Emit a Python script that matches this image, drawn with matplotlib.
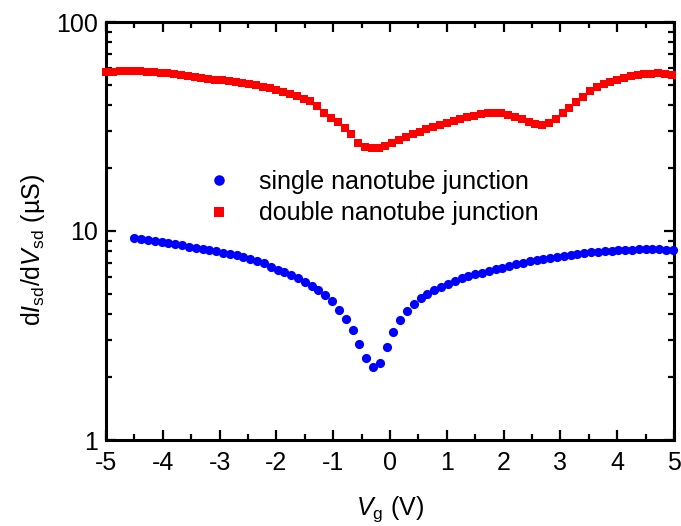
import numpy as np
import matplotlib
matplotlib.use("Agg")
import matplotlib.pyplot as plt
from matplotlib.ticker import LogLocator, NullFormatter, FixedLocator, FixedFormatter, MultipleLocator

plt.rcParams['font.family'] = ['Liberation Sans', 'DejaVu Sans']
plt.rcParams['mathtext.fontset'] = 'custom'
plt.rcParams['mathtext.rm'] = 'Liberation Sans'
plt.rcParams['mathtext.it'] = 'Liberation Sans:italic'
plt.rcParams['mathtext.sf'] = 'Liberation Sans'

# single nanotube junction (blue circles)
vg_single = [-4.50, -4.38, -4.26, -4.14, -4.02, -3.90, -3.78, -3.66, -3.54, -3.42,
             -3.30, -3.18, -3.06, -2.94, -2.82, -2.70, -2.58, -2.46, -2.34, -2.22,
             -2.10, -1.98, -1.86, -1.74, -1.62, -1.50, -1.38, -1.26, -1.14, -1.02,
             -0.90, -0.78, -0.66, -0.54, -0.42, -0.30, -0.18, -0.06, 0.06, 0.18,
             0.30, 0.42, 0.54, 0.66, 0.78, 0.90, 1.02, 1.14, 1.26, 1.38,
             1.50, 1.62, 1.74, 1.86, 1.98, 2.10, 2.22, 2.34, 2.46, 2.58,
             2.70, 2.82, 2.94, 3.06, 3.18, 3.30, 3.42, 3.54, 3.66, 3.78,
             3.90, 4.02, 4.14, 4.26, 4.38, 4.50, 4.62, 4.74, 4.86, 4.98]
g_single = [9.30, 9.20, 9.10, 9.00, 8.90, 8.78, 8.66, 8.54, 8.43, 8.32,
            8.21, 8.10, 7.99, 7.88, 7.77, 7.65, 7.52, 7.38, 7.22, 7.06,
            6.72, 6.53, 6.34, 6.14, 5.93, 5.68, 5.45, 5.23, 4.95, 4.60,
            4.20, 3.78, 3.35, 2.88, 2.48, 2.23, 2.33, 2.80, 3.30, 3.75,
            4.15, 4.48, 4.78, 5.00, 5.20, 5.40, 5.60, 5.78, 5.95, 6.08,
            6.20, 6.32, 6.44, 6.56, 6.68, 6.80, 6.92, 7.04, 7.15, 7.26,
            7.36, 7.46, 7.55, 7.63, 7.71, 7.78, 7.85, 7.91, 7.96, 8.01,
            8.05, 8.09, 8.12, 8.15, 8.17, 8.18, 8.18, 8.17, 8.15, 8.12]

# double nanotube junction (red squares)
vg_double = [-5.00, -4.88, -4.76, -4.64, -4.52, -4.40, -4.28, -4.16, -4.04, -3.92,
             -3.80, -3.68, -3.56, -3.44, -3.32, -3.20, -3.08, -2.96, -2.84, -2.72,
             -2.60, -2.48, -2.36, -2.24, -2.12, -2.00, -1.88, -1.76, -1.64, -1.52,
             -1.40, -1.28, -1.16, -1.04, -0.92, -0.80, -0.68, -0.56, -0.44, -0.32,
             -0.20, -0.08, 0.04, 0.16, 0.28, 0.40, 0.52, 0.64, 0.76, 0.88,
             1.00, 1.12, 1.24, 1.36, 1.48, 1.60, 1.72, 1.84, 1.96, 2.08,
             2.20, 2.32, 2.44, 2.56, 2.68, 2.80, 2.92, 3.04, 3.16, 3.28,
             3.40, 3.52, 3.64, 3.76, 3.88, 4.00, 4.12, 4.24, 4.36, 4.48,
             4.60, 4.72, 4.84, 4.96]
g_double = [57.5, 57.8, 58.0, 58.2, 58.3, 58.0, 57.7, 57.4, 57.1, 56.8,
            56.3, 55.7, 55.1, 54.5, 54.0, 53.5, 53.0, 52.5, 52.1, 51.6,
            51.0, 50.4, 49.8, 49.1, 48.3, 47.4, 46.4, 45.3, 44.2, 43.0,
            41.8, 39.5, 36.6, 34.8, 33.2, 31.2, 29.0, 26.5, 25.2, 25.0,
            24.9, 25.5, 26.4, 27.3, 28.2, 29.0, 29.8, 30.6, 31.3, 32.0,
            32.8, 33.6, 34.4, 35.0, 35.6, 36.1, 36.5, 36.7, 36.5, 36.0,
            35.3, 34.4, 33.4, 32.6, 32.2, 32.8, 34.5, 36.5, 38.8, 41.2,
            44.0, 46.8, 49.0, 50.7, 51.9, 53.0, 54.0, 54.9, 55.7, 56.3,
            56.7, 56.8, 56.5, 56.0]

x_ticks = [-5, -4, -3, -2, -1, 0, 1, 2, 3, 4, 5]
x_ticklabels = ['-5', '-4', '-3', '-2', '-1', '0', '1', '2', '3', '4', '5']
y_ticks = [1, 10, 100]
y_ticklabels = ['1', '10', '100']

fig = plt.figure(figsize=(6.81, 5.26), dpi=100)
ax = fig.add_axes([106/681, 1-440/526, 568/681, 418/526])

ax.plot(vg_single, g_single, 'o', color='#0000ff', markersize=6.6, markeredgewidth=0,
        label='single nanotube junction', clip_on=False, zorder=3)
ax.plot(vg_double, g_double, 's', color='#ff0000', markersize=6.0, markeredgewidth=0,
        label='double nanotube junction', clip_on=False, zorder=3)

ax.set_yscale('log')
ax.set_xlim(-5, 5)
ax.set_ylim(1, 100)
ax.xaxis.set_major_locator(FixedLocator(x_ticks))
ax.xaxis.set_major_formatter(FixedFormatter(x_ticklabels))
ax.xaxis.set_minor_locator(MultipleLocator(0.5))
ax.yaxis.set_major_locator(FixedLocator(y_ticks))
ax.yaxis.set_major_formatter(FixedFormatter(y_ticklabels))
ax.yaxis.set_minor_locator(LogLocator(base=10, subs=np.arange(2, 10), numticks=20))
ax.yaxis.set_minor_formatter(NullFormatter())

for s in ax.spines.values():
    s.set_linewidth(2.2)
ax.tick_params(which='both', direction='in', top=True, right=True, labelsize=18)
ax.tick_params(which='major', length=7.5, width=1.6, pad=6)
ax.tick_params(which='minor', length=4, width=1.6)
ax.tick_params(axis='x', which='major', pad=8)

ax.set_xlabel(r'$V_{\rm g}$ (V)', fontsize=18, labelpad=14)
ax.set_ylabel('d$I_{\\rm sd}$/d$V_{\\rm sd}$ (\u00b5S)', fontsize=18)
ax.yaxis.set_label_coords(-0.104, 0.455)

leg = ax.legend(loc='center left', bbox_to_anchor=(0.15, 0.58), frameon=False,
                fontsize=18, markerscale=1.15, handlelength=1.2, handletextpad=1.0,
                labelspacing=0.3, borderpad=0)

fig.savefig('out.png', dpi=100)
